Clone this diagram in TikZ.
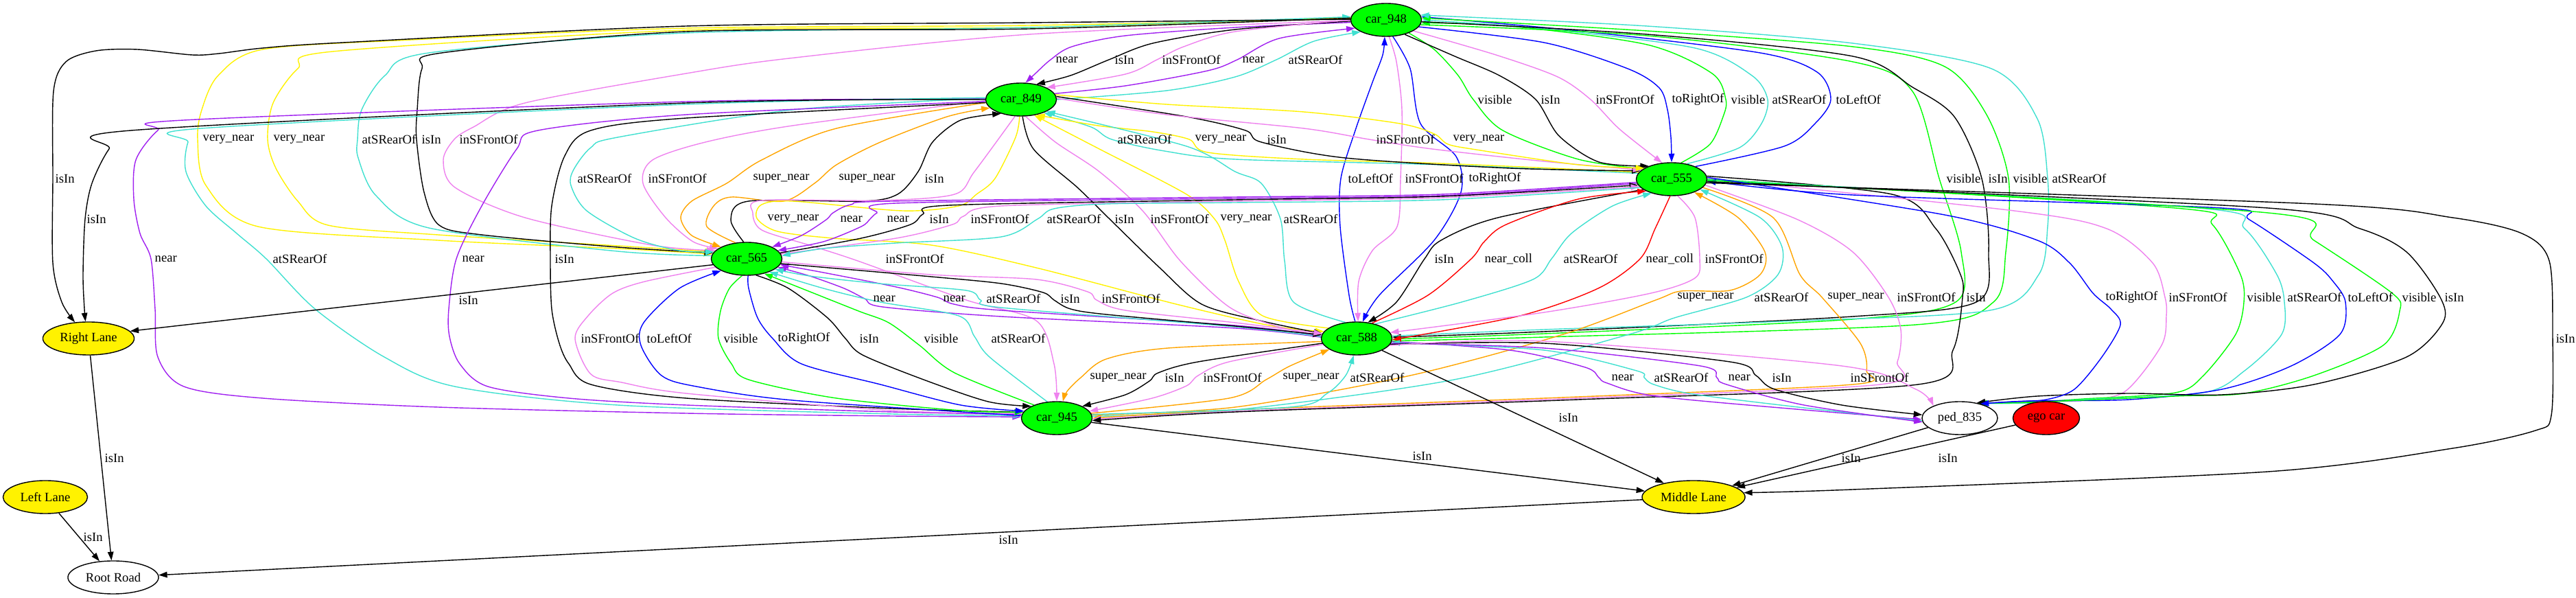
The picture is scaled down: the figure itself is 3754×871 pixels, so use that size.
\documentclass[tikz,border=0pt]{standalone}
\usepackage{fontspec}
\setmainfont{Liberation Serif}
\usetikzlibrary{arrows.meta,shapes.geometric}
\definecolor{relturq}{RGB}{64,224,208}
\definecolor{relviolet}{RGB}{238,130,238}
\definecolor{relpurple}{RGB}{160,32,240}
\definecolor{relorange}{RGB}{255,165,0}
\pgfdeclarelayer{edges}
\pgfsetlayers{edges,main}
\tikzset{
  txt/.style={font=\fontsize{5.3}{6}\selectfont},
  obj/.style={ellipse,draw=black,line width=0.4pt,inner sep=0pt,minimum height=0.48cm,txt},
  car/.style={obj,fill=green,minimum width=1.03cm},
  lane/.style={obj,fill=yellow},
  ped/.style={obj,fill=white,minimum width=1.10cm},
  egocar/.style={obj,fill=red,minimum width=0.97cm},
  road/.style={obj,fill=white,minimum width=1.32cm},
  rel/.style={line width=0.4pt,-{Triangle[length=1.25mm,width=0.85mm]}},
  lab/.style={txt,anchor=west,inner sep=0pt},
}

\begin{document}
\begin{tikzpicture}[x=0.01cm,y=-0.01cm]
  \useasboundingbox (0,0) rectangle (3754,871);

  \node[car] (c948) at (2020,29) {car\_948};
  \node[car] (c849) at (1488,145) {car\_849};
  \node[car] (c555) at (2436,261) {car\_555};
  \node[car] (c565) at (1088,377) {car\_565};
  \node[car] (c588) at (1977,493) {car\_588};
  \node[car] (c945) at (1540,609) {car\_945};
  \node[ped] (ped) at (2856,609) {ped\_835};
  \node[egocar] (ego) at (2982,609) {ego car};
  \node[lane,minimum width=1.33cm] (RL) at (129,493) {Right Lane};
  \node[lane,minimum width=1.23cm] (LL) at (66,724) {Left Lane};
  \node[lane,minimum width=1.50cm] (ML) at (2468,724) {Middle Lane};
  \node[road] (RR) at (165,841) {Root Road};

  \begin{pgfonlayer}{edges}
  % car_948 / car_849
  \draw[rel,relpurple] plot[smooth] coordinates {(c948.184) (1800,40) (1640,52) (1562,68) (1531,87) (1510,106) (c849.75)};
  \draw[rel] plot[smooth] coordinates {(c948.182) (1800,43) (1680,63) (1616,87) (1560,110) (c849.45)};
  \draw[rel,relviolet] plot[smooth] coordinates {(c948.180) (1800,46) (1725,68) (1686,87) (1640,108) (c849.25)};
  \draw[rel,relpurple] plot[smooth] coordinates {(c849.10) (1640,125) (1760,103) (1803,87) (1864,56) (c948.195)};
  \draw[rel,relturq] plot[smooth] coordinates {(c849.0) (1700,132) (1800,112) (1860,87) (1915,60) (c948.205)};
  % car_948 / car_555
  \draw[rel,green] plot[smooth] coordinates {(c948.-30) (2090,72) (2125,110) (2147,145) (2190,190) (2300,232) (c555.160)};
  \draw[rel] plot[smooth] coordinates {(c948.-38) (2120,82) (2185,110) (2238,145) (2272,198) (2330,236) (c555.150)};
  \draw[rel,relviolet] plot[smooth] coordinates {(c948.-22) (2180,80) (2270,112) (2318,145) (2360,188) (c555.120)};
  \draw[rel,blue] plot[smooth] coordinates {(c948.-12) (2250,62) (2372,100) (2418,128) (2430,160) (2435,200) (c555.90)};
  \draw[rel,green] plot[smooth] coordinates {(c555.60) (2492,210) (2511,170) (2515,145) (2495,107) (2400,65) (2200,38) (c948.-5)};
  \draw[rel,relturq] plot[smooth] coordinates {(c555.45) (2535,215) (2567,180) (2576,145) (2553,110) (2470,70) (2250,42) (c948.0)};
  \draw[rel,blue] plot[smooth] coordinates {(c555.28) (2600,213) (2645,180) (2668,145) (2648,105) (2565,77) (2300,45) (c948.5)};
  % car_948 / car_565
  \draw[rel,yellow] plot[smooth] coordinates {(c948.178) (1500,37) (1000,41) (600,58) (383,72) (318,110) (294,160) (288,203) (300,270) (376,330) (638,350) (900,362) (c565.172)};
  \draw[rel,yellow] plot[smooth] coordinates {(c948.176) (1500,40) (1000,44) (485,75) (434,100) (398,150) (390,203) (402,245) (434,293) (478,328) (638,342) (900,358) (c565.168)};
  \draw[rel,relturq] plot[smooth] coordinates {(c565.175) (900,366) (625,332) (548,285) (522,230) (521,203) (527,160) (561,110) (625,77) (1000,48) (1500,40) (c948.175)};
  \draw[rel] plot[smooth] coordinates {(c948.177) (1500,42) (1000,46) (644,77) (615,100) (608,160) (607,203) (618,280) (640,328) (702,342) (900,360) (c565.170)};
  \draw[rel,relviolet] plot[smooth] coordinates {(c948.181) (1500,50) (1150,85) (1000,107) (765,150) (690,185) (662,203) (646,233) (663,273) (765,317) (950,357) (c565.165)};
  % car_948 / car_588
  \draw[rel,blue] plot[smooth] coordinates {(c588.95) (1966,430) (1953,330) (1954,260) (1975,190) (2000,120) (2015,80) (c948.-95)};
  \draw[rel,relviolet] plot[smooth] coordinates {(c948.-80) (2035,90) (2043,160) (2041,260) (2036,330) (2000,365) (1980,410) (c588.85)};
  \draw[rel,blue] plot[smooth] coordinates {(c948.-68) (2055,100) (2070,180) (2122,228) (2129,280) (2090,350) (2010,430) (c588.70)};
  \draw[rel,green] plot[smooth] coordinates {(c948.-8) (2400,52) (2700,90) (2787,133) (2826,260) (2858,367) (2850,440) (2700,465) (2250,486) (c588.-1)};
  \draw[rel] plot[smooth] coordinates {(c948.-3) (2400,50) (2700,82) (2787,127) (2848,170) (2888,260) (2898,367) (2880,440) (2700,461) (2250,483) (c588.2)};
  \draw[rel,green] plot[smooth] coordinates {(c588.-4) (2250,491) (2792,473) (2905,440) (2923,367) (2927,260) (2895,167) (2834,97) (2700,68) (2400,45) (c948.3)};
  \draw[rel,relturq] plot[smooth] coordinates {(c588.4) (2250,480) (2600,468) (2900,452) (2971,400) (2984,330) (2984,260) (2969,173) (2902,100) (2700,63) (2400,38) (c948.8)};
  % car_948 / Right Lane
  \draw[rel] plot[smooth] coordinates {(c948.179) (1500,33) (1000,38) (500,62) (383,70) (319,78) (280,80) (200,72) (140,74) (96,90) (78,133) (77,260) (77,383) (90,440) (RL.130)};
  % car_849 / car_555
  \draw[rel,relturq] plot[smooth] coordinates {(c555.170) (2100,240) (1800,232) (1697,220) (1620,203) (1590,185) (c849.-30)};
  \draw[rel,yellow] plot[smooth] coordinates {(c555.168) (2100,238) (1900,232) (1760,222) (1733,203) (1680,192) (1600,183) (c849.-45)};
  \draw[rel] plot[smooth] coordinates {(c849.5) (1729,170) (1815,190) (1838,207) (1960,230) (2200,245) (c555.165)};
  \draw[rel,relviolet] plot[smooth] coordinates {(c849.2) (1700,167) (1900,187) (1995,203) (2087,217) (2250,235) (c555.163)};
  \draw[rel,yellow] plot[smooth] coordinates {(c849.8) (1700,152) (1900,163) (2040,180) (2090,195) (2110,210) (2151,218) (2300,240) (c555.158)};
  % car_849 / car_565
  \draw[rel,relturq] plot[smooth] coordinates {(c849.178) (1155,160) (900,200) (861,215) (836,247) (832,270) (855,307) (925,347) (990,365) (c565.168)};
  \draw[rel,relviolet] plot[smooth] coordinates {(c849.182) (1155,183) (1028,207) (951,233) (937,267) (970,317) (1010,352) (c565.160)};
  \draw[rel,relorange] plot[smooth] coordinates {(c849.185) (1219,187) (1110,233) (1059,267) (1008,293) (992,317) (1008,343) (c565.155)};
  \draw[rel,relorange] plot[smooth] coordinates {(c565.125) (1030,330) (1040,300) (1066,287) (1142,293) (1187,267) (1219,240) (1283,207) (1380,170) (c849.195)};
  \draw[rel] plot[smooth] coordinates {(c565.100) (1065,320) (1091,293) (1257,293) (1308,283) (1338,250) (1359,207) (1400,175) (c849.215)};
  % car_849 / car_588
  \draw[rel,yellow] plot[smooth] coordinates {(c849.-95) (1480,200) (1450,260) (1423,283) (1397,300) (1315,307) (1155,293) (1110,298) (1103,318) (1133,337) (1214,347) (1357,357) (1510,390) (1714,443) (1850,474) (c588.168)};
  \draw[rel] plot[smooth] coordinates {(c849.-85) (1506,217) (1570,273) (1617,319) (1690,390) (1751,443) (1836,467) (c588.172)};
  \draw[rel,relviolet] plot[smooth] coordinates {(c849.-75) (1538,207) (1602,250) (1666,308) (1720,380) (1791,447) (1860,475) (c588.176)};
  \draw[rel,yellow] plot[smooth] coordinates {(c588.160) (1840,460) (1805,410) (1785,350) (1770,319) (1729,283) (1602,217) (c849.-50)};
  \draw[rel,relturq] plot[smooth] coordinates {(c588.125) (1885,440) (1872,380) (1866,319) (1838,267) (1800,250) (1729,213) (c849.-25)};
  % car_849 / car_945
  \draw[rel,relpurple] plot[smooth] coordinates {(c849.179) (1000,148) (268,175) (230,190) (198,233) (195,290) (204,340) (220,377) (226,450) (230,520) (268,563) (383,580) (638,593) (1000,602) (1300,606) (c945.178)};
  \draw[rel,relturq] plot[smooth] coordinates {(c849.177) (1000,152) (293,187) (274,207) (271,250) (300,300) (345,340) (388,377) (459,450) (560,520) (663,563) (900,590) (1300,603) (c945.176)};
  \draw[rel,relpurple] plot[smooth] coordinates {(c849.183) (1000,167) (784,190) (753,217) (702,300) (665,377) (654,450) (655,490) (670,530) (711,563) (829,580) (1000,590) (1300,600) (c945.174)};
  \draw[rel] plot[smooth] coordinates {(c849.185) (1000,172) (861,190) (823,227) (804,300) (802,377) (804,450) (815,500) (829,530) (861,560) (1000,580) (1300,595) (c945.170)};
  \draw[rel,relviolet] plot[smooth] coordinates {(c849.-110) (1420,250) (1391,283) (1283,292) (1110,292) (1097,310) (1110,335) (1179,357) (1250,380) (1408,437) (1510,467) (1536,530) (c945.90)};
  % car_849 / Right Lane
  \draw[rel] plot[smooth] coordinates {(c849.180) (1000,150) (191,190) (159,217) (134,267) (124,319) (121,400) (123,450) (RL.100)};
  % car_555 / car_565
  \draw[rel,relpurple] plot[smooth] coordinates {(c555.185) (2100,283) (1800,287) (1300,293) (1240,298) (1214,310) (1204,320) (1168,343) (c565.25)};
  \draw[rel,relpurple] plot[smooth] coordinates {(c555.187) (2100,285) (1800,289) (1306,296) (1278,310) (1268,319) (1255,330) (1200,352) (c565.15)};
  \draw[rel] plot[smooth] coordinates {(c565.10) (1255,347) (1327,327) (1345,312) (1383,299) (1800,291) (2100,286) (c555.190)};
  \draw[rel,relviolet] plot[smooth] coordinates {(c565.8) (1306,347) (1388,327) (1404,315) (1459,300) (1800,293) (2100,288) (c555.193)};
  \draw[rel,relturq] plot[smooth] coordinates {(c555.195) (2100,291) (1800,295) (1612,297) (1536,304) (1512,319) (1459,345) (1306,354) (1200,362) (c565.5)};
  % car_565 / car_588
  \draw[rel,relpurple] plot[smooth] coordinates {(c588.178) (1800,478) (1459,461) (1286,447) (1260,435) (1230,420) (1180,402) (c565.-15)};
  \draw[rel,relpurple] plot[smooth] coordinates {(c588.176) (1800,474) (1459,452) (1390,443) (1366,433) (1306,418) (1200,397) (c565.-10)};
  \draw[rel,relturq] plot[smooth] coordinates {(c588.177) (1800,476) (1459,448) (1429,437) (1408,423) (1281,413) (1180,402) (c565.-20)};
  \draw[rel] plot[smooth] coordinates {(c565.-8) (1357,403) (1459,413) (1520,426) (1536,437) (1560,450) (1612,458) (1800,475) (c588.174)};
  \draw[rel,relviolet] plot[smooth] coordinates {(c565.-5) (1357,400) (1510,407) (1585,425) (1598,437) (1640,452) (1800,470) (c588.172)};
  % car_565 / car_945
  \draw[rel,relviolet] plot[smooth] coordinates {(c565.-165) (940,410) (893,427) (857,460) (838,493) (861,545) (906,557) (1000,573) (1300,598) (c945.172)};
  \draw[rel,blue] plot[smooth] coordinates {(c945.176) (1155,583) (1015,563) (964,547) (934,503) (938,470) (990,420) (c565.-155)};
  \draw[rel,green] plot[smooth] coordinates {(c565.-105) (1063,420) (1050,453) (1047,493) (1066,530) (1091,553) (1219,580) (1400,598) (c945.170)};
  \draw[rel,blue] plot[smooth] coordinates {(c565.-85) (1091,420) (1104,463) (1126,493) (1168,530) (1283,560) (1400,590) (c945.168)};
  \draw[rel] plot[smooth] coordinates {(c565.-60) (1149,420) (1206,463) (1232,493) (1257,517) (1346,553) (1440,585) (c945.155)};
  \draw[rel,green] plot[smooth] coordinates {(c945.150) (1391,543) (1340,503) (1295,470) (1251,453) (1168,420) (c565.-40)};
  \draw[rel,relturq] plot[smooth] coordinates {(c945.120) (1442,520) (1420,490) (1397,460) (1283,440) (1200,420) (c565.-30)};
  % car_565 / Right Lane
  \draw[rel] (c565.190) -- (RL.10);
  % car_555 / car_588
  \draw[rel] plot[smooth] coordinates {(c555.200) (2183,317) (2100,350) (2076,377) (2035,440) (c588.55)};
  \draw[rel,red] plot[smooth] coordinates {(c588.45) (2081,430) (2144,377) (2163,352) (2195,327) (2300,290) (c555.205)};
  \draw[rel,relturq] plot[smooth] coordinates {(c588.38) (2130,440) (2234,407) (2261,377) (2290,340) (2350,300) (c555.215)};
  \draw[rel,red] plot[smooth] coordinates {(c555.-95) (2412,333) (2390,377) (2329,420) (2215,460) (c588.-2)};
  \draw[rel,relviolet] plot[smooth] coordinates {(c555.-70) (2470,317) (2477,377) (2470,405) (2406,427) (2250,455) (c588.10)};
  % car_555 / car_945
  \draw[rel,relorange] plot[smooth] coordinates {(c945.5) (1800,593) (2055,547) (2278,487) (2413,437) (2450,424) (2521,423) (2565,400) (2572,367) (2533,317) (c555.-30)};
  \draw[rel,relturq] plot[smooth] coordinates {(c945.3) (1800,597) (2119,553) (2374,487) (2440,463) (2545,433) (2591,400) (2597,360) (2565,317) (c555.-20)};
  \draw[rel,relorange] plot[smooth] coordinates {(c555.-15) (2584,317) (2623,400) (2655,433) (2711,500) (2720,540) (2700,560) (2300,578) (1800,597) (c945.0)};
  \draw[rel,relviolet] plot[smooth] coordinates {(c555.-10) (2620,320) (2700,367) (2752,433) (2770,480) (2765,527) (2740,560) (2300,580) (1800,599) (c945.-2)};
  \draw[rel] plot[smooth] coordinates {(c555.5) (2757,283) (2821,333) (2857,400) (2860,433) (2846,510) (2795,560) (2300,582) (1800,600) (c945.-4)};
  % car_555 / ped_835
  \draw[rel,relviolet] plot[smooth] coordinates {(c555.1) (2935,307) (3070,333) (3137,383) (3155,433) (3157,460) (3150,503) (3097,570) (3036,583) (2960,585) (ped.40)};
  \draw[rel,green] plot[smooth] coordinates {(c555.0) (3170,303) (3224,327) (3265,400) (3270,440) (3258,487) (3211,547) (3170,572) (3036,581) (2960,586) (ped.38)};
  \draw[rel,relturq] plot[smooth] coordinates {(c555.-1) (3204,303) (3271,333) (3318,400) (3329,440) (3325,487) (3271,540) (3211,572) (3036,582) (2960,587) (ped.37)};
  \draw[rel,blue] plot[smooth] coordinates {(ped.36) (2960,584) (3103,582) (3238,567) (3339,533) (3410,487) (3418,440) (3400,410) (3372,383) (3278,320) (3238,303) (2700,284) (c555.-3)};
  \draw[rel,green] plot[smooth] coordinates {(c555.-2) (3305,310) (3372,350) (3486,427) (3497,453) (3473,503) (3372,547) (3271,573) (3170,577) (2960,586) (ped.39)};
  \draw[rel] plot[smooth] coordinates {(c555.-4) (3305,303) (3439,333) (3507,367) (3556,433) (3560,470) (3507,520) (3372,560) (3238,575) (3103,573) (2969,577) (ped.42)};
  \draw[rel,blue] plot[smooth] coordinates {(c555.3) (2834,313) (2969,350) (3016,383) (3050,427) (3076,450) (3090,473) (3063,520) (3023,567) (2982,582) (2935,585) (ped.35)};
  % car_555 / Middle Lane
  \draw[rel] plot[smooth] coordinates {(c555.-6) (3372,297) (3574,317) (3675,340) (3715,380) (3720,493) (3718,605) (3695,627) (3574,653) (3305,687) (2700,713) (ML.5)};
  % car_588 / car_945
  \draw[rel,relorange] plot[smooth] coordinates {(c588.185) (1702,507) (1612,523) (1575,550) (1555,570) (c945.70)};
  \draw[rel] plot[smooth] coordinates {(c588.188) (1746,527) (1688,543) (1675,555) (1640,575) (c945.25)};
  \draw[rel,relviolet] plot[smooth] coordinates {(c588.190) (1791,527) (1746,547) (1729,562) (1679,580) (c945.12)};
  \draw[rel,relorange] plot[smooth] coordinates {(c945.8) (1791,580) (1845,553) (1880,533) (c588.-158)};
  \draw[rel,relturq] plot[smooth] coordinates {(c945.6) (1880,593) (1934,573) (1961,547) (c588.-100)};
  % car_588 / ped_835
  \draw[rel,relpurple] plot[smooth] coordinates {(c588.-5) (2200,510) (2310,535) (2330,550) (2342,558) (2413,577) (2629,597) (ped.182)};
  \draw[rel,relturq] plot[smooth] coordinates {(ped.184) (2629,594) (2467,574) (2410,560) (2396,550) (2385,540) (2250,510) (c588.-7)};
  \draw[rel,relpurple] plot[smooth] coordinates {(c588.-8) (2250,507) (2478,533) (2502,550) (2516,560) (2629,590) (ped.186)};
  \draw[rel] plot[smooth] coordinates {(c588.-10) (2250,500) (2521,527) (2559,547) (2586,567) (2684,590) (ped.175)};
  \draw[rel,relviolet] plot[smooth] coordinates {(c588.-12) (2250,497) (2684,533) (2792,567) (ped.155)};
  % lanes and road
  \draw[rel] (c588) -- (ML);
  \draw[rel] (c945) -- (ML);
  \draw[rel] (ped) -- (ML);
  \draw[rel] (ego) -- (ML);
  \draw[rel] (RL) -- (RR);
  \draw[rel] (LL) -- (RR);
  \draw[rel] (ML) -- (RR);
  \end{pgfonlayer}

  % labels
  \node[lab] (tA1) at (1538,87) {near};
  \node[lab] (tA2) at (1624,87) {isIn};
  \node[lab] (tA3) at (1693,87) {inSFrontOf};
  \node[lab] (tA4) at (1810,87) {near};
  \node[lab] (tA5) at (1877,87) {atSRearOf};
  \node[lab] (tB1) at (2153,145) {visible};
  \node[lab] (tB2) at (2245,145) {isIn};
  \node[lab] (tB3) at (2325,145) {inSFrontOf};
  \node[lab] (tB4) at (2436,145) {toRightOf};
  \node[lab] (tB5) at (2522,145) {visible};
  \node[lab] (tB6) at (2582,145) {atSRearOf};
  \node[lab] (tB7) at (2675,145) {toLeftOf};
  \node[lab] (tC1) at (295,203) {very\_near};
  \node[lab] (tC2) at (398,203) {very\_near};
  \node[lab] (tC3) at (527,203) {atSRearOf};
  \node[lab] (tC4) at (614,203) {isIn};
  \node[lab] (tC5) at (669,203) {inSFrontOf};
  \node[lab] (tD1) at (1964,260) {toLeftOf};
  \node[lab] (tD2) at (2047,260) {inSFrontOf};
  \node[lab] (tD3) at (2140,260) {toRightOf};
  \node[lab] (tD4) at (2836,260) {visible};
  \node[lab] (tD5) at (2897,260) {isIn};
  \node[lab] (tD6) at (2933,260) {visible};
  \node[lab] (tD7) at (2990,260) {atSRearOf};
  \node[lab] (tE1) at (80,260) {isIn};
  \node[lab] (tF1) at (1628,203) {atSRearOf};
  \node[lab] (tF2) at (1741,203) {very\_near};
  \node[lab] (tF3) at (1846,203) {isIn};
  \node[lab] (tF4) at (2005,203) {inSFrontOf};
  \node[lab] (tF5) at (2117,203) {very\_near};
  \node[lab] (tG1) at (841,260) {atSRearOf};
  \node[lab] (tG2) at (944,260) {inSFrontOf};
  \node[lab] (tG3) at (1097,260) {super\_near};
  \node[lab] (tG4) at (1222,260) {super\_near};
  \node[lab] (tG5) at (1347,260) {isIn};
  \node[lab] (tH1) at (1118,319) {very\_near};
  \node[lab] (tH2) at (1624,319) {isIn};
  \node[lab] (tH3) at (1676,319) {inSFrontOf};
  \node[lab] (tH4) at (1778,319) {very\_near};
  \node[lab] (tH5) at (1870,319) {atSRearOf};
  \node[lab] (tI1) at (225,377) {near};
  \node[lab] (tI2) at (397,377) {atSRearOf};
  \node[lab] (tI3) at (673,377) {near};
  \node[lab] (tI4) at (808,377) {isIn};
  \node[lab] (tI5) at (1290,377) {inSFrontOf};
  \node[lab] (tJ1) at (126,319) {isIn};
  \node[lab] (tK1) at (1224,319) {near};
  \node[lab] (tK2) at (1292,319) {near};
  \node[lab] (tK3) at (1354,319) {isIn};
  \node[lab] (tK4) at (1414,319) {inSFrontOf};
  \node[lab] (tK5) at (1525,319) {atSRearOf};
  \node[lab] (tL1) at (1272,435) {near};
  \node[lab] (tL2) at (1374,435) {near};
  \node[lab] (tL3) at (1437,435) {atSRearOf};
  \node[lab] (tL4) at (1545,435) {isIn};
  \node[lab] (tL5) at (1605,435) {inSFrontOf};
  \node[lab] (tM1) at (846,493) {inSFrontOf};
  \node[lab] (tM2) at (942,493) {toLeftOf};
  \node[lab] (tM3) at (1054,493) {visible};
  \node[lab] (tM4) at (1133,493) {toRightOf};
  \node[lab] (tM5) at (1252,493) {isIn};
  \node[lab] (tM6) at (1346,493) {visible};
  \node[lab] (tM7) at (1444,493) {atSRearOf};
  \node[lab] (tN1) at (668,437) {isIn};
  \node[lab] (tO1) at (2090,377) {isIn};
  \node[lab] (tO2) at (2163,377) {near\_coll};
  \node[lab] (tO3) at (2278,377) {atSRearOf};
  \node[lab] (tO4) at (2398,377) {near\_coll};
  \node[lab] (tO5) at (2484,377) {inSFrontOf};
  \node[lab] (tP1) at (2444,433) {super\_near};
  \node[lab] (tP2) at (2556,433) {atSRearOf};
  \node[lab] (tP3) at (2663,433) {super\_near};
  \node[lab] (tP4) at (2764,433) {inSFrontOf};
  \node[lab] (tP5) at (2865,433) {isIn};
  \node[lab] (tQ1) at (3068,433) {toRightOf};
  \node[lab] (tQ2) at (3160,433) {inSFrontOf};
  \node[lab] (tQ3) at (3274,433) {visible};
  \node[lab] (tQ4) at (3333,433) {atSRearOf};
  \node[lab] (tQ5) at (3421,433) {toLeftOf};
  \node[lab] (tQ6) at (3500,433) {visible};
  \node[lab] (tQ7) at (3562,433) {isIn};
  \node[lab] (tR1) at (3724,493) {isIn};
  \node[lab] (tS1) at (1588,550) {super\_near};
  \node[lab] (tS2) at (1697,550) {isIn};
  \node[lab] (tS3) at (1753,550) {inSFrontOf};
  \node[lab] (tS4) at (1869,550) {super\_near};
  \node[lab] (tS5) at (1967,550) {atSRearOf};
  \node[lab] (tT1) at (2348,550) {near};
  \node[lab] (tT2) at (2410,550) {atSRearOf};
  \node[lab] (tT3) at (2518,550) {near};
  \node[lab] (tT4) at (2582,550) {isIn};
  \node[lab] (tT5) at (2696,550) {inSFrontOf};
  \node[lab] (tU1) at (2271,608) {isIn};
  \node[lab] (tU2) at (2058,664) {isIn};
  \node[lab] (tU3) at (2683,667) {isIn};
  \node[lab] (tU4) at (2824,667) {isIn};
  \node[lab] (tU5) at (152,667) {isIn};
  \node[lab] (tU6) at (121,782) {isIn};
  \node[lab] (tU7) at (1455,786) {isIn};
\end{tikzpicture}
\end{document}
